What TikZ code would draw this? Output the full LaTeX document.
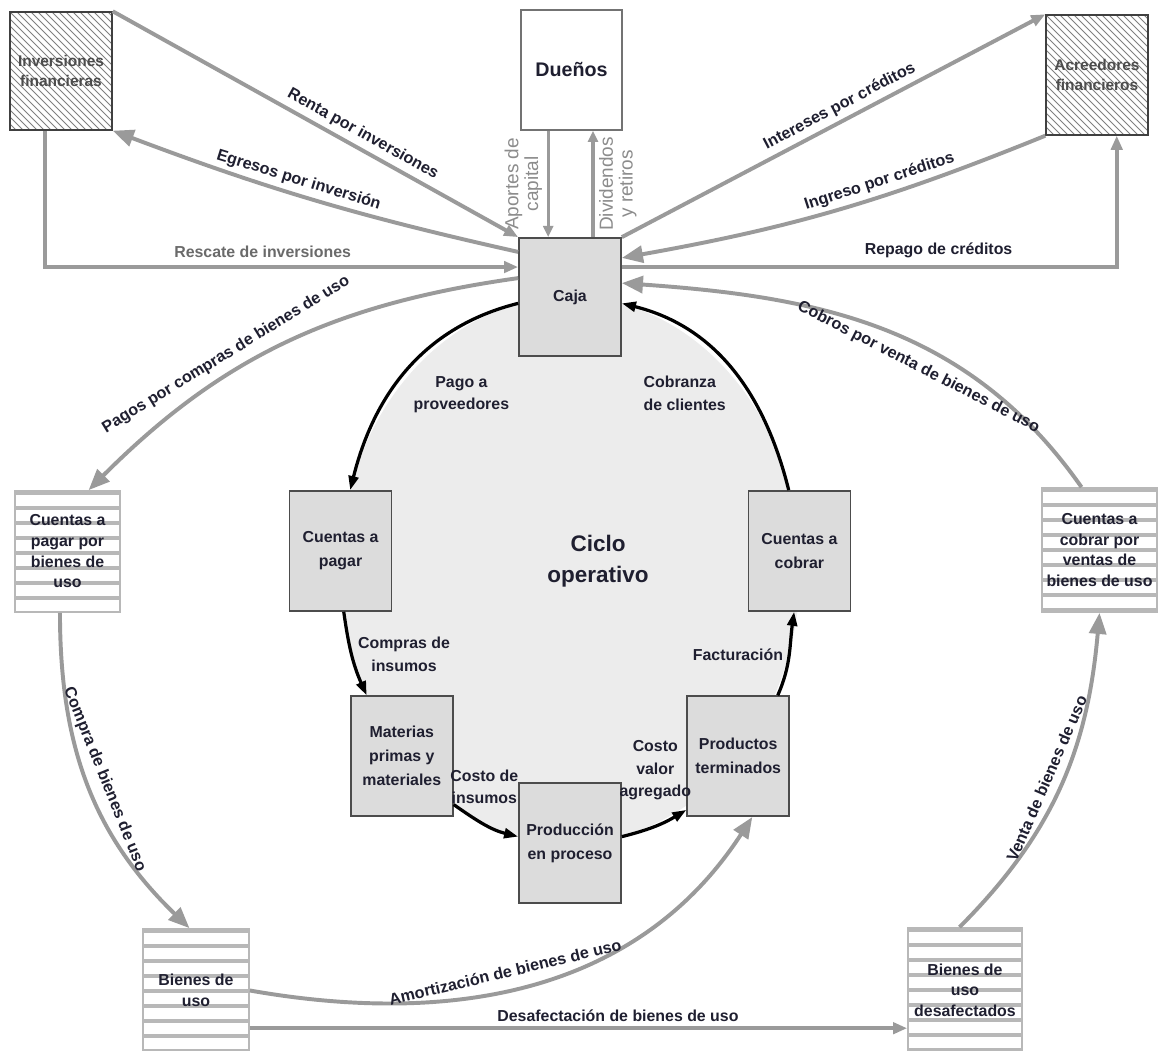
\documentclass[tikz,border=0pt]{standalone}
\usepackage{fontspec}
\setmainfont{Liberation Sans}
\usetikzlibrary{positioning,calc,arrows.meta}

\definecolor{tinta}{HTML}{1F1F30}
\definecolor{flujo}{HTML}{9A9A9A}
\definecolor{grisbox}{HTML}{DCDCDC}
\definecolor{fondo}{HTML}{ECECEC}
\definecolor{raya}{HTML}{B8B8B8}
\definecolor{textogris}{HTML}{6A6A6A}
\definecolor{textoclaro}{HTML}{8C8C8C}

\begin{document}
\begin{tikzpicture}[x=0.025cm, y=0.025cm,
      font=\fontsize{11.3}{16}\selectfont\bfseries, text=tinta, align=center,
      ciclo/.style={rectangle, draw=black!70, line width=1.2pt, fill=grisbox,
                    minimum width=2.55cm, minimum height=3cm,
                    font=\fontsize{11.3}{17}\selectfont\bfseries},
      rayado/.style={rectangle, draw=black!75, line width=1pt,
                     minimum width=2.55cm, minimum height=2.95cm,
                     text=black!70, font=\fontsize{11}{14}\selectfont\bfseries,
                     path picture={\foreach \k in {-20,...,18}
                       \draw[black!50, line width=.6pt]
                         ($(path picture bounding box.north west)+(\k*7,0)$) -- ++(140,-140);}},
      listado/.style={rectangle, draw=raya, line width=1.2pt, inner sep=2pt,
                      font=\fontsize{11.3}{14.7}\selectfont\bfseries,
                      path picture={\foreach \k in {0,...,9}
                        \draw[raya, line width=3pt]
                          ($(path picture bounding box.north west)+(0,-2-\k*15)$) -- ++(140,0);}},
      flecha/.style={draw=flujo, line width=2.8pt, -{Triangle[length=10pt,width=8pt]}},
      flechagrande/.style={draw=flujo, line width=2.8pt, -{Triangle[length=15pt,width=12pt]}},
      flechita/.style={draw=flujo, line width=2.2pt, -{Triangle[length=8pt,width=7pt]}},
      giro/.style={draw=black, line width=2.3pt, -{Triangle[length=10pt,width=7pt]}},
      rotulo/.style={sloped, font=\fontsize{11.5}{14}\selectfont\bfseries},
      vertical/.style={rotate=90, text=textoclaro, font=\fontsize{13.5}{14}\selectfont\mdseries}
    ]
    \useasboundingbox (0,0) rectangle (1161,1050);
    \fill[white] (0,0) rectangle (1161,1050);

    % ciclo operativo
    \coordinate (ctr) at (570,480);
    \fill[fondo] (ctr) ellipse[x radius=230, y radius=273];
    \node[font=\fontsize{16}{22}\selectfont\bfseries] (titulo) at (598,489) {Ciclo\\operativo};

    \node[ciclo, minimum height=2.95cm] (caja) at ($(ctr)+(90:230 and 273)$) {Caja};
    \node[ciclo] (cpag) at ($(ctr)+(176:230 and 273)$) {Cuentas a\\pagar};
    \node[ciclo] (mat)  at ($(ctr)+(223:230 and 273)$) {Materias\\primas y\\materiales};
    \node[ciclo] (proc) at ($(ctr)+(270:230 and 273)$) {Producción\\en proceso};
    \node[ciclo] (term) at ($(ctr)+(317:230 and 273)$) {Productos\\terminados};
    \node[ciclo] (ccob) at ($(ctr)+(4:230 and 273)$) {Cuentas a\\cobrar};

    % entes externos
    \node[rayado] (inv) at (61,979) {Inversiones\\financieras};
    \node[rectangle, draw=black!55, line width=1pt, minimum width=2.525cm, minimum height=3cm,
          font=\fontsize{14}{17}\selectfont\bfseries] (duenos) at (571.5,980) {Dueños};
    \node[rayado, minimum height=3cm] (acre) at (1097,975) {Acreedores\\financieros};

    % bienes de uso
    \node[listado, minimum width=2.625cm, minimum height=3.025cm] (cpbu) at (67.5,498.5) {Cuentas a\\pagar por\\bienes de\\uso};
    \node[listado, minimum width=2.875cm, minimum height=3.1cm] (ccvbu) at (1099.5,500) {Cuentas a\\cobrar por\\ventas de\\bienes de uso};
    \node[listado, minimum width=2.65cm, minimum height=3.075cm] (bu) at (196,59.5) {Bienes de\\uso};
    \node[listado, minimum width=2.85cm, minimum height=3.1cm] (bud) at (965,60) {Bienes de\\uso\\desafectados};

    % flechas del ciclo
    \draw[giro] (caja.187) to[out=194,in=76] node[below right]{Pago a\\proveedores} (cpag.81);
    \draw[giro] (cpag.273) to[out=278,in=114] node[right]{Compras de\\insumos} (mat.120);
    \draw[giro] (mat.317) to[out=325,in=166] node[above=10pt]{Costo de\\insumos} (proc.173);
    \draw[giro] (proc.7) to[out=14,in=211] node[above=14pt]{Costo\\valor\\agregado} (term.226);
    \draw[giro] (term.57) to[out=66,in=262] node[left]{Facturación} (ccob.265);
    \draw[giro] (ccob.100) to[out=104,in=346] node[below left, align=left]{Cobranza\\de clientes} (caja.353);

    % inversiones y duenos
    \draw[flecha] (inv.north east) -- node[rotulo, above, pos=.6]{Renta por inversiones} (caja.north west);
    \draw[flechagrande] (caja.139) to[bend left=4] node[rotulo, above, pos=.55]{Egresos por inversión} (inv.south east);
    \draw[flecha] (inv.255) |- node[pos=.73, above=2pt, text=textogris]{Rescate de inversiones} (caja.150);
    \draw[flechita] (duenos.249) -- node[vertical, anchor=south]{Aportes de\\capital} (duenos.249 |- caja.north);
    \draw[flechita] (caja.69) -- node[vertical, anchor=north]{Dividendos\\y retiros} (caja.69 |- duenos.south);

    % acreedores
    \draw[flecha] (caja.north east) -- node[rotulo, above, pos=.53]{Intereses por créditos} (acre.north west);
    \draw[flechagrande] (acre.south west) to[bend left=6] node[rotulo, above, pos=.38]{Ingreso por créditos} (caja.37);
    \draw[flecha] (caja.30) -| node[pos=.32, above=2pt]{Repago de créditos} (acre.288);

    % bienes de uso
    \draw[flechagrande] (caja.160) to[out=188,in=45] node[rotulo, above=3pt, pos=.62]{Pagos por compras de bienes de uso} (cpbu.71);
    \draw[flechagrande] (ccvbu.106) to[out=125,in=-4] node[rotulo, below=4pt, pos=.4]{Cobros por venta de bienes de uso} (caja.15);
    \draw[flechagrande] (cpbu.263) to[out=270,in=136] node[rotulo, above=2pt]{Compra de bienes de uso} (bu.96);
    \draw[flechagrande] (bu.east) to[out=-10,in=237] node[rotulo, above=4pt, pos=.45]{Amortización de bienes de uso} (term.283);
    \draw[flecha] (bu.325) -- node[above, pos=.56]{Desafectación de bienes de uso} (bu.325 -| bud.west);
    \draw[flechagrande] (bud.95) to[out=45,in=265] node[rotulo, above=2pt]{Venta de bienes de uso} (ccvbu.south);
\end{tikzpicture}
\end{document}
